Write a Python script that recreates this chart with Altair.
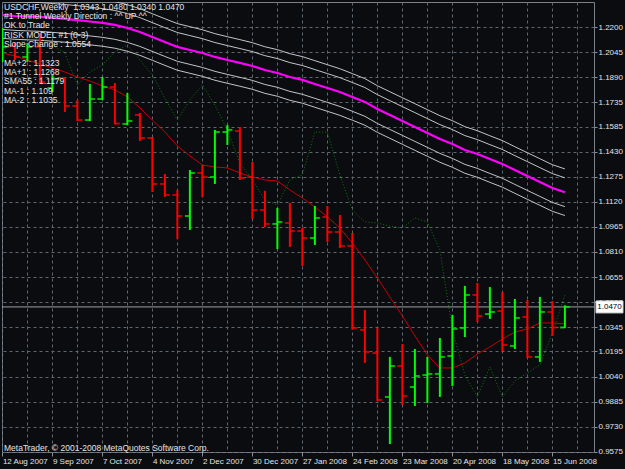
import json
import altair as alt
import pandas as pd

# ---------------- data ----------------
BAR_OPEN = [1.2009, 1.2083, 1.2015, 1.2077, 1.1823, 1.1885, 1.1712, 1.1625, 1.1755, 1.1829,
            1.1601, 1.1656, 1.1514, 1.1230, 1.1162, 1.1032, 1.1298, 1.1273, 1.1551, 1.1557,
            1.1273, 1.1069, 1.0983, 1.0989, 1.0939, 1.0896, 1.1026, 1.0933, 1.0847, 1.0328,
            1.0185, 0.9914, 1.0105, 0.9975, 1.0049, 1.0056, 1.0167, 1.0340, 1.0544, 1.0426,
            1.0445, 1.0229, 1.0408, 1.0161, 1.0439, 1.0343]
BAR_HIGH = [1.2194, 1.2107, 1.2101, 1.2163, 1.1903, 1.1891, 1.1749, 1.1848, 1.1891, 1.1854,
            1.1792, 1.1669, 1.1520, 1.1292, 1.1193, 1.1316, 1.1347, 1.1564, 1.1594, 1.1582,
            1.1366, 1.1187, 1.1082, 1.1112, 1.0958, 1.1094, 1.1094, 1.1038, 1.0927, 1.0451,
            1.0340, 1.0161, 1.0241, 1.0210, 1.0161, 1.0278, 1.0420, 1.0600, 1.0618, 1.0593,
            1.0562, 1.0519, 1.0513, 1.0532, 1.0507, 1.0480]
BAR_LOW = [1.1984, 1.1996, 1.1984, 1.1848, 1.1798, 1.1675, 1.1619, 1.1619, 1.1749, 1.1598,
           1.1594, 1.1496, 1.1180, 1.1150, 1.0890, 1.0946, 1.1150, 1.1230, 1.1471, 1.1255,
           1.1014, 1.0964, 1.0828, 1.0841, 1.0723, 1.0853, 1.0871, 1.0834, 1.0330, 1.0124,
           0.9889, 0.9623, 0.9864, 0.9858, 0.9876, 0.9914, 0.9982, 1.0284, 1.0377, 1.0396,
           1.0198, 1.0210, 1.0155, 1.0130, 1.0291, 1.0340]
BAR_CLOSE = [1.2077, 1.2015, 1.2077, 1.1860, 1.1879, 1.1712, 1.1625, 1.1755, 1.1829, 1.1603,
             1.1619, 1.1514, 1.1230, 1.1162, 1.1032, 1.1298, 1.1273, 1.1551, 1.1564, 1.1267,
             1.1069, 1.0983, 1.0995, 1.0939, 1.0896, 1.1020, 1.0933, 1.0847, 1.0340, 1.0192,
             0.9895, 1.0105, 0.9920, 1.0043, 1.0056, 1.0161, 1.0334, 1.0544, 1.0414, 1.0439,
             1.0235, 1.0402, 1.0161, 1.0439, 1.0343, 1.0470]

RED_MA = [1.2039, 1.2021, 1.1996, 1.1971, 1.1947, 1.1922, 1.1891, 1.1866, 1.1836, 1.1811,
          1.1768, 1.1700, 1.1625, 1.1551, 1.1465, 1.1403, 1.1347, 1.1335, 1.1329, 1.1298,
          1.1273, 1.1255, 1.1248, 1.1193, 1.1143, 1.1088, 1.1026, 1.0958, 1.0865, 1.0760,
          1.0649, 1.0531, 1.0414, 1.0291, 1.0173, 1.0093, 1.0093, 1.0124, 1.0179, 1.0223,
          1.0272, 1.0315, 1.0334, 1.0371, 1.0371, 1.0365]

SMA55 = [1.2274, 1.2268, 1.2265, 1.2262, 1.2256, 1.2250, 1.2243, 1.2234, 1.2225, 1.2213,
         1.2194, 1.2169, 1.2138, 1.2107, 1.2077, 1.2058, 1.2039, 1.2015, 1.1996, 1.1978,
         1.1959, 1.1934, 1.1916, 1.1891, 1.1873, 1.1848, 1.1823, 1.1798, 1.1768, 1.1737,
         1.1693, 1.1656, 1.1619, 1.1582, 1.1545, 1.1508, 1.1477, 1.1440, 1.1415, 1.1384,
         1.1354, 1.1316, 1.1279, 1.1242, 1.1205, 1.1179]

GREEN_DOT = [1.2058, 1.2089, 1.2120, 1.2132, 1.2089, 1.2039, 1.1842, 1.1922, 1.1965, 1.2046,
             1.2089, 1.1996, 1.1903, 1.1761, 1.1625, 1.1749, 1.1842, 1.1718, 1.1564, 1.1360,
             1.1255, 1.1131, 1.1100, 1.1255, 1.1286, 1.1551, 1.1551, 1.1286, 1.1069, 1.0995,
             1.0989, 1.0970, 1.0958, 1.1020, 1.0995, 1.0822, 1.0328, 1.0049, 0.9914, 1.0099,
             0.9914, 1.0012, 1.0062, 1.0111, 1.0309, 1.0544]

LEGEND_NAMES = ["MA+2", "MA+1", "SMA55", "MA-1", "MA-2"]
LEGEND_VALUES = ["1.1323", "1.1268", "1.1179", "1.109", "1.1035"]

X_LABELS = ["12 Aug 2007", "9 Sep 2007", "7 Oct 2007", "4 Nov 2007", "2 Dec 2007",
            "30 Dec 2007", "27 Jan 2008", "24 Feb 2008", "23 Mar 2008", "20 Apr 2008",
            "18 May 2008", "15 Jun 2008"]
Y_LABELS = ["1.2200", "1.2045", "1.1890", "1.1735", "1.1585", "1.1430", "1.1275", "1.1120",
            "1.0965", "1.0810", "1.0655", "1.0500", "1.0345", "1.0195", "1.0040", "0.9885",
            "0.9730", "0.9575"]

HEADER_LINES = ["#1 Tunnel Weekly Direction : ^^ UP ^^", "OK to Trade",
                "RISK MODEL #1 (0-3)", "Slope Change : 1.0554"]
COPYRIGHT = "MetaTrader, \u00a9 2001-2008 MetaQuotes Software Corp."

# ---------------- styling ----------------
BG = "#0b0c10"
GRID = "#5e6670"
TXT = "#e4e4e4"
FONT = "Liberation Sans Narrow, Liberation Sans, Arial, sans-serif"
W, H = 592, 450

n = len(BAR_CLOSE)
idx = list(range(n))
bars = pd.DataFrame({"idx": idx, "open": BAR_OPEN, "high": BAR_HIGH,
                     "low": BAR_LOW, "close": BAR_CLOSE})
bars["dir"] = ["up" if c >= o else "down" for o, c in zip(BAR_OPEN, BAR_CLOSE)]

sma_last = SMA55[-1]
tunnel_offsets = [float(v) - sma_last for v in LEGEND_VALUES]
tunnel_rows = []
for name, off in zip(LEGEND_NAMES, tunnel_offsets):
    if name == "SMA55":
        continue
    for i, s in enumerate(SMA55):
        tunnel_rows.append({"idx": i, "v": s + off, "line": name})
tunnel = pd.DataFrame(tunnel_rows)

lines = pd.DataFrame({"idx": idx, "ma": RED_MA, "sma": SMA55, "dot": GREEN_DOT})

XS = alt.Scale(domain=[-0.03, 47.33], nice=False, zero=False)
YS = alt.Scale(domain=[0.95735, 1.23545], nice=False, zero=False)

x_label_expr = ("datum.value % 4 === 0 ? " + json.dumps(X_LABELS) +
                "[round(datum.value / 4)] : ''")
XAX = alt.Axis(values=list(range(0, 47, 2)), labelExpr=x_label_expr, grid=True,
               gridDash=[3, 3], gridColor=GRID, gridWidth=1, domain=False, tickSize=4,
               tickColor={"condition": {"test": "datum.value % 4 === 0", "value": "#8a8f96"},
                          "value": "rgba(0,0,0,0)"},
               labelAlign="left", labelBaseline="top", labelPadding=1, labelFont=FONT,
               labelFontSize=8, labelColor=TXT, labelOverlap=False, labelFlush=False,
               title=None)
YAX = alt.Axis(orient="right", values=[float(v) for v in Y_LABELS], format=".4f", grid=True,
               gridDash=[3, 3], gridColor=GRID, gridWidth=1, domain=False, tickSize=3,
               tickColor="#8a8f96", labelAlign="left", labelBaseline="middle",
               labelPadding=1, labelFont=FONT, labelFontSize=8, labelColor=TXT,
               labelOverlap=False, labelFlush=False, title=None)


def X():
    return alt.X("idx:Q", scale=XS, axis=XAX)


def Y(field):
    return alt.Y(field, scale=YS, axis=YAX)


last_close = BAR_CLOSE[-1]
price_line = alt.Chart(pd.DataFrame({"p": [last_close]})).mark_rule(
    color="#9da2a8", strokeWidth=1).encode(y=Y("p:Q"))

tunnel_lines = alt.Chart(tunnel).mark_line(color="#c4c4c4", strokeWidth=1, clip=True).encode(
    x=X(), y=Y("v:Q"), detail="line:N")
sma_line = alt.Chart(lines).mark_line(color="#ff00ff", strokeWidth=2.2, clip=True).encode(
    x=X(), y=Y("sma:Q"))
dot_line = alt.Chart(lines).mark_line(color="#0c7a0c", strokeWidth=1, strokeDash=[1, 2],
                                      clip=True).encode(x=X(), y=Y("dot:Q"))
ma_line = alt.Chart(lines).mark_line(color="#c40000", strokeWidth=1, clip=True).encode(
    x=X(), y=Y("ma:Q"))

COL = alt.Color("dir:N", scale=alt.Scale(domain=["up", "down"], range=["#00ff00", "#ff0000"]),
                legend=None)
hl = alt.Chart(bars).mark_rule(strokeWidth=2, clip=True).encode(
    x=X(), y=Y("high:Q"), y2="low:Q", color=COL)
op = alt.Chart(bars).mark_tick(orient="horizontal", size=5, thickness=2, xOffset=-2.5,
                               clip=True).encode(x=X(), y=Y("open:Q"), color=COL)
cl = alt.Chart(bars).mark_tick(orient="horizontal", size=5, thickness=2, xOffset=2.5,
                               clip=True).encode(x=X(), y=Y("close:Q"), color=COL)

# current price label box on the right axis
half = 6 * (1.23545 - 0.95735) / H
box_df = pd.DataFrame({"top": [last_close + half], "bot": [last_close - half],
                       "p": [last_close], "t": [f"{last_close:.4f}"]})
box = alt.Chart(box_df).mark_rect(color="#ffffff", stroke="#d0d0d0", strokeWidth=1).encode(
    x=alt.value(W + 2), x2=alt.value(W + 29), y=Y("top:Q"), y2="bot:Q")
box_text = alt.Chart(box_df).mark_text(font=FONT, fontSize=8, color="#000000",
                                       align="center", baseline="middle").encode(
    x=alt.value(W + 15.5), y=Y("p:Q"), text="t:N")

# text overlay at the top left
header0 = ("USDCHF,Weekly\u00a0\u00a0" +
           " ".join(f"{v:.4f}" for v in (BAR_OPEN[-1], BAR_HIGH[-1], BAR_LOW[-1], BAR_CLOSE[-1])))
overlay = [header0] + HEADER_LINES
texts = []
y0, step = 5, 9.2
for k, s in enumerate(overlay):
    texts.append((s, y0 + k * step))
for k, (nm, val) in enumerate(zip(LEGEND_NAMES, LEGEND_VALUES)):
    texts.append((f"{nm} : {val}", 61 + k * step))
texts.append((COPYRIGHT, H - 4))

text_layers = [
    alt.Chart(pd.DataFrame({"t": [s]})).mark_text(
        font=FONT, fontSize=8.5, color=TXT, align="left", baseline="middle").encode(
        x=alt.value(2), y=alt.value(yy), text="t:N")
    for s, yy in texts
]

chart = alt.layer(price_line, tunnel_lines, sma_line, dot_line, ma_line, hl, op, cl,
                  box, box_text, *text_layers).properties(
    width=W, height=H, autosize="none",
    padding={"left": 2, "top": 2, "right": 31, "bottom": 17},
    background=BG,
).configure_view(stroke="#7c828a", strokeWidth=1)

chart.save("out.html", embed_options={"renderer": "svg", "actions": False})
